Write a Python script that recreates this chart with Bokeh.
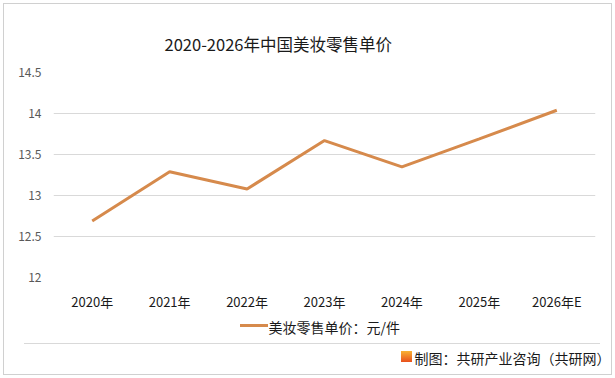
from bokeh.plotting import figure
from bokeh.models import Range1d, FixedTicker, Title
from bokeh.embed import file_html
from bokeh.resources import INLINE

categories = ["2020年", "2021年", "2022年", "2023年", "2024年", "2025年", "2026年E"]
values = [12.69, 13.29, 13.08, 13.67, 13.35, 13.69, 14.04]
y_ticks = [12, 12.5, 13, 13.5, 14, 14.5]
title_text = "2020-2026年中国美妆零售单价"
series_name = "美妆零售单价：元/件"
source_text = "制图：共研产业咨询（共研网）"

FONT = "Noto Sans CJK SC"
LINE_COLOR = "#D68A4C"

p = figure(width=615, height=378, x_range=categories, y_range=Range1d(12, 14.5),
           output_backend="svg", toolbar_location=None,
           min_border_left=53, min_border_right=20, min_border_top=72, min_border_bottom=101)
p.outline_line_color = None
p.background_fill_color = "white"
p.border_fill_color = None
# outer frame, footer rule, legend swatch and source logo drawn as page decoration
p.styles = {
    "outline": "1px solid #d0d0d0",
    "outline-offset": "-4px",
    "background-color": "white",
    "background-image": ("linear-gradient(#d9d9d9, #d9d9d9), "
                         "linear-gradient(#f9b233, #e8501c), "
                         f"linear-gradient({LINE_COLOR}, {LINE_COLOR})"),
    "background-size": "576px 1px, 11px 11px, 28px 3px",
    "background-position": "24px 343px, 401px 351px, 240px 324px",
    "background-repeat": "no-repeat",
}

r = p.line(x=categories, y=values, line_color=LINE_COLOR, line_width=3)

p.title.text = title_text
p.title.align = "left"
p.title.offset = 111
p.title.text_font = FONT
p.title.text_font_size = "16.5px"
p.title.text_font_style = "normal"
p.title.text_color = "#1a1a1a"
p.title.standoff = 34

p.xgrid.grid_line_color = None
p.ygrid.grid_line_color = "#d9d9d9"
p.ygrid.grid_line_width = 1
p.yaxis.ticker = FixedTicker(ticks=y_ticks)
p.yaxis.axis_line_color = None
p.yaxis.major_tick_line_color = None
p.yaxis.minor_tick_line_color = None
p.yaxis.major_label_text_font = FONT
p.yaxis.major_label_text_font_size = "12px"
p.yaxis.major_label_text_color = "#595959"
p.yaxis.major_label_standoff = 6
p.xaxis.axis_line_color = None
p.xaxis.major_tick_line_color = None
p.xaxis.major_label_text_font = FONT
p.xaxis.major_label_text_font_size = "13px"
p.xaxis.major_label_text_color = "#1a1a1a"
p.xaxis.major_label_standoff = 8

legend_label = Title(text=series_name, align="left", offset=215, standoff=3,
                     text_font=FONT, text_font_size="14px", text_font_style="normal",
                     text_color="#1a1a1a")
p.add_layout(legend_label, "below")

footer = Title(text=source_text, align="left", offset=361, standoff=14,
               text_font=FONT, text_font_size="14px", text_font_style="normal",
               text_color="#1a1a1a")
p.add_layout(footer, "below")

open("out.html", "w").write(file_html(p, INLINE))
